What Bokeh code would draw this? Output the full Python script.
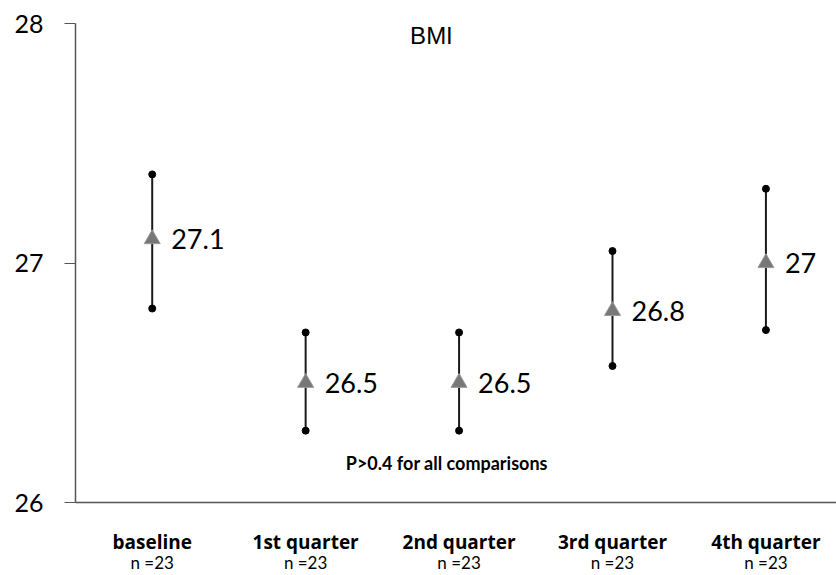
from bokeh.plotting import figure
from bokeh.models import Range1d, LinearAxis, FixedTicker, Label
from bokeh.embed import file_html
from bokeh.resources import INLINE
from bokeh.core.properties import value

categories = ["baseline", "1st quarter", "2nd quarter", "3rd quarter", "4th quarter"]
n_labels = ["n =23", "n =23", "n =23", "n =23", "n =23"]
means = [27.1, 26.5, 26.5, 26.8, 27.0]
upper = [27.37, 26.71, 26.71, 27.05, 27.31]
lower = [26.81, 26.30, 26.30, 26.57, 26.72]
mean_labels = ["27.1", "26.5", "26.5", "26.8", "27"]
y_ticks = [26, 27, 28]
title_text = "BMI"
note_text = "P>0.4 for all comparisons"

xs = list(range(len(categories)))

p = figure(width=836, height=575, x_range=Range1d(-0.5, 4.46), y_range=Range1d(26, 28),
           output_backend="svg", toolbar_location=None,
           min_border_left=75, min_border_top=23, min_border_right=0, min_border_bottom=73)
p.xgrid.visible = False
p.ygrid.visible = False
p.outline_line_color = None
p.background_fill_color = "white"

p.segment(xs, lower, xs, upper, line_color="#1a1a1a", line_width=2)
p.scatter(xs, upper, size=7, color="black")
p.scatter(xs, lower, size=7, color="black")
p.scatter(xs, means, marker="triangle", size=16, fill_color="#777777", line_color="#9a9a9a", line_width=1)
p.text(xs, means, text=mean_labels, x_offset=19, text_baseline="middle", text_align="left",
       text_font=value("Lato"), text_font_size="27px", text_color="black")

# y axis
p.yaxis.ticker = FixedTicker(ticks=y_ticks)
p.yaxis.major_label_text_font = "Lato"
p.yaxis.major_label_text_font_size = "25px"
p.yaxis.major_label_text_color = "black"
p.yaxis.major_tick_out = 11
p.yaxis.major_tick_in = 0
p.yaxis.minor_tick_line_color = None
p.yaxis.axis_line_color = "#555555"
p.yaxis.major_tick_line_color = "#555555"
p.yaxis.axis_line_width = 1.5
p.yaxis.major_label_standoff = 21

# x axis (categories)
p.xaxis.ticker = FixedTicker(ticks=xs)
p.xaxis.major_label_overrides = {i: c for i, c in zip(xs, categories)}
p.xaxis.major_label_text_font = "Open Sans"
p.xaxis.major_label_text_font_style = "bold"
p.xaxis.major_label_text_font_size = "19px"
p.xaxis.major_label_text_color = "black"
p.xaxis.major_tick_line_color = None
p.xaxis.major_tick_out = 0
p.xaxis.major_tick_in = 0
p.xaxis.minor_tick_line_color = None
p.xaxis.axis_line_color = "#555555"
p.xaxis.axis_line_width = 1.5
p.xaxis.major_label_standoff = 26

ax2 = LinearAxis(ticker=FixedTicker(ticks=xs),
                 major_label_overrides={i: n for i, n in zip(xs, n_labels)},
                 axis_line_color=None, major_tick_line_color=None, minor_tick_line_color=None,
                 major_tick_out=0, major_tick_in=0,
                 major_label_standoff=-6, major_label_text_font="Lato",
                 major_label_text_font_size="17px", major_label_text_color="black")
p.add_layout(ax2, "below")

p.add_layout(Label(x=1.82, y=27.95, text=title_text, text_align="center", text_baseline="middle",
                   text_font="Liberation Sans", text_font_size="24px", text_color="black"))
p.add_layout(Label(x=1.92, y=26.167, text=note_text, text_align="center", text_baseline="middle",
                   text_font="Lato", text_font_style="bold", text_font_size="18px", text_color="black"))

open("out.html", "w").write(file_html(p, INLINE))
